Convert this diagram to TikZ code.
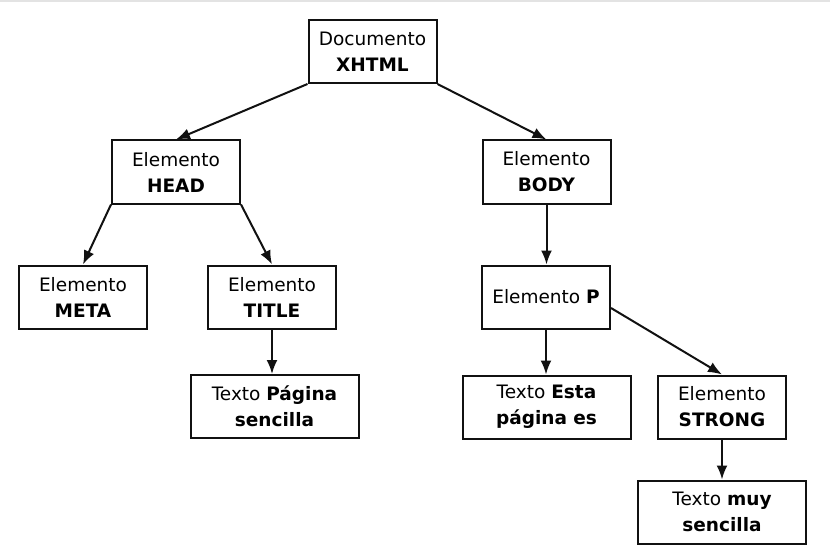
\documentclass[tikz,border=0pt]{standalone}
\usepackage{fontspec}
\setmainfont{DejaVu Sans}
\usepackage[svgnames]{xcolor}
\definecolor{Black}{HTML}{111111}
\definecolor{White}{HTML}{FFFFFF}
\definecolor{Rule}{HTML}{E3E3E3}
\usetikzlibrary{arrows.meta}
\tikzset{
  every picture/.style={font={\fontsize{18.5}{26}\selectfont}, >={Latex[length=14pt,width=11pt]}},
  elem/.style={draw=Black, line width=2pt, fill=White, align=center,
    minimum width=128pt, minimum height=63pt, inner sep=2pt},
  texto/.style={elem, minimum width=168pt},
  link/.style={->, draw=Black, line width=2pt}}

\begin{document}
\begin{tikzpicture}[x=1pt, y=-1pt]
    \useasboundingbox (0,0) rectangle (830,559);
    \fill[White] (0,0) rectangle (830,559);
    \draw[Rule, line width=2pt] (0,1) -- (830,1);

    % tree nodes
    \node[elem] (doc) at (372.5, 51.5) {Documento\\\textbf{XHTML}};
    \node[elem] (head) at (176, 172) {Elemento\\\textbf{HEAD}};
    \node[elem] (body) at (546.5, 172) {Elemento\\\textbf{BODY}};
    \node[elem] (meta) at (83, 297) {Elemento\\\textbf{META}};
    \node[elem] (title) at (272, 297) {Elemento\\\textbf{TITLE}};
    \node[elem] (p) at (546, 297) {Elemento \textbf{P}};
    \node[texto] (pagina) at (274.5, 406.5) {Texto \textbf{Página}\\\textbf{sencilla}};
    \node[texto] (esta) at (546.5, 407) {Texto \textbf{Esta}\\\textbf{página es}};
    \node[elem] (strong) at (722, 407) {Elemento\\\textbf{STRONG}};
    \node[texto] (muy) at (722, 512) {Texto \textbf{muy}\\\textbf{sencilla}};

    % connectors
    \draw[link] (doc.south west) -- (head.north);
    \draw[link] (doc.south east) -- (body.north);
    \draw[link] (head.south west) -- (meta.north);
    \draw[link] (head.south east) -- (title.north);
    \draw[link] (title.south) -- (title.south |- pagina.north);
    \draw[link] (body.south) -- (body.south |- p.north);
    \draw[link] (p.south) -- (p.south |- esta.north);
    \draw[link] ([yshift=-11pt]p.east) -- (strong.north);
    \draw[link] (strong.south) -- (strong.south |- muy.north);
  \end{tikzpicture}
\end{document}
